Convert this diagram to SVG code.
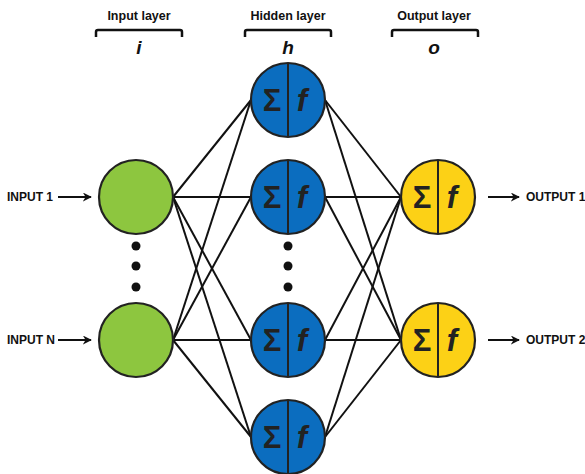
<svg xmlns="http://www.w3.org/2000/svg" width="585" height="474" viewBox="0 0 585 474">
<defs>
<style>
.lbl{font-family:"Liberation Sans",Arial,sans-serif;font-weight:bold;font-size:12px;fill:#111}
.hdr{font-family:"Liberation Sans",Arial,sans-serif;font-weight:bold;font-size:12.5px;fill:#111;text-anchor:middle}
.sym{font-family:"Liberation Sans",Arial,sans-serif;font-weight:bold;font-style:italic;font-size:19px;fill:#111;text-anchor:middle}
.node{stroke:#222;stroke-width:2.2}
.in{fill:#8dc63f}
.hid{fill:#0b6dbf}
.out{fill:#fcd116}
.div{stroke:#222;stroke-width:2}
.big{font-family:"Liberation Sans",Arial,sans-serif;font-weight:bold;font-size:31px;fill:#222;text-anchor:middle}
.conn line{stroke:#111;stroke-width:2}
.br{fill:none;stroke:#111;stroke-width:2.5}
.arr{stroke:#111;stroke-width:2.2;marker-end:url(#ah)}
</style>
<marker id="ah" viewBox="0 0 10 10" refX="9" refY="5" markerWidth="4.5" markerHeight="4.5" orient="auto" markerUnits="strokeWidth">
<path d="M0,0 L10,5 L0,10 L3,5 z" fill="#111"/>
</marker>
</defs>
<rect width="585" height="474" fill="#fff"/>

<g id="headers">
<text class="hdr" x="139" y="20">Input layer</text>
<path class="br" d="M96,37 V32 Q96,30 98,30 H180 Q182,30 182,32 V37"/>
<text class="sym" x="139" y="54">i</text>
<text class="hdr" x="288" y="20">Hidden layer</text>
<path class="br" d="M245,37 V32 Q245,30 247,30 H329 Q331,30 331,32 V37"/>
<text class="sym" x="288" y="54">h</text>
<text class="hdr" x="434" y="20">Output layer</text>
<path class="br" d="M392,37 V32 Q392,30 394,30 H476 Q478,30 478,32 V37"/>
<text class="sym" x="434" y="54">o</text>
</g>

<g id="connectors" class="conn">
<line x1="173" y1="197" x2="251" y2="100"/>
<line x1="173" y1="197" x2="251" y2="197"/>
<line x1="173" y1="197" x2="251" y2="340"/>
<line x1="173" y1="197" x2="251" y2="437"/>
<line x1="173" y1="340" x2="251" y2="100"/>
<line x1="173" y1="340" x2="251" y2="197"/>
<line x1="173" y1="340" x2="251" y2="340"/>
<line x1="173" y1="340" x2="251" y2="437"/>
<line x1="325" y1="100" x2="401" y2="197"/>
<line x1="325" y1="100" x2="401" y2="340"/>
<line x1="325" y1="197" x2="401" y2="197"/>
<line x1="325" y1="197" x2="401" y2="340"/>
<line x1="325" y1="340" x2="401" y2="197"/>
<line x1="325" y1="340" x2="401" y2="340"/>
<line x1="325" y1="437" x2="401" y2="197"/>
<line x1="325" y1="437" x2="401" y2="340"/>
<line class="arr" x1="58" y1="197" x2="91" y2="197"/>
<line class="arr" x1="58" y1="340" x2="91" y2="340"/>
<line class="arr" x1="488" y1="197" x2="519" y2="197"/>
<line class="arr" x1="488" y1="340" x2="519" y2="340"/>
</g>

<g id="input1"><circle class="node in" cx="136" cy="197" r="37"/></g>
<g id="inputN"><circle class="node in" cx="136" cy="340" r="37"/></g>
<g id="input-dots" fill="#111"><circle cx="136" cy="246" r="4.5"/><circle cx="136" cy="266" r="4.5"/><circle cx="136" cy="287" r="4.5"/></g>
<g id="hidden-dots" fill="#111"><circle cx="288" cy="246" r="4.5"/><circle cx="288" cy="266" r="4.5"/><circle cx="288" cy="287" r="4.5"/></g>

<g id="hidden1"><circle class="node hid" cx="288" cy="100" r="37"/><line class="div" x1="288" y1="63" x2="288" y2="137"/><text class="big" x="272" y="111">Σ</text><text class="big" x="302" y="111" font-style="italic">f</text></g>
<g id="hidden2"><circle class="node hid" cx="288" cy="197" r="37"/><line class="div" x1="288" y1="160" x2="288" y2="234"/><text class="big" x="272" y="208">Σ</text><text class="big" x="302" y="208" font-style="italic">f</text></g>
<g id="hidden3"><circle class="node hid" cx="288" cy="340" r="37"/><line class="div" x1="288" y1="303" x2="288" y2="377"/><text class="big" x="272" y="351">Σ</text><text class="big" x="302" y="351" font-style="italic">f</text></g>
<g id="hidden4"><circle class="node hid" cx="288" cy="437" r="37"/><line class="div" x1="288" y1="400" x2="288" y2="474"/><text class="big" x="272" y="448">Σ</text><text class="big" x="302" y="448" font-style="italic">f</text></g>

<g id="output1"><circle class="node out" cx="438" cy="197" r="37"/><line class="div" x1="438" y1="160" x2="438" y2="234"/><text class="big" x="422" y="208">Σ</text><text class="big" x="452" y="208" font-style="italic">f</text></g>
<g id="output2"><circle class="node out" cx="438" cy="340" r="37"/><line class="div" x1="438" y1="303" x2="438" y2="377"/><text class="big" x="422" y="351">Σ</text><text class="big" x="452" y="351" font-style="italic">f</text></g>

<g id="io-labels">
<text class="lbl" x="7" y="201">INPUT 1</text>
<text class="lbl" x="7" y="344">INPUT N</text>
<text class="lbl" x="526" y="201">OUTPUT 1</text>
<text class="lbl" x="526" y="344">OUTPUT 2</text>
</g>
</svg>
